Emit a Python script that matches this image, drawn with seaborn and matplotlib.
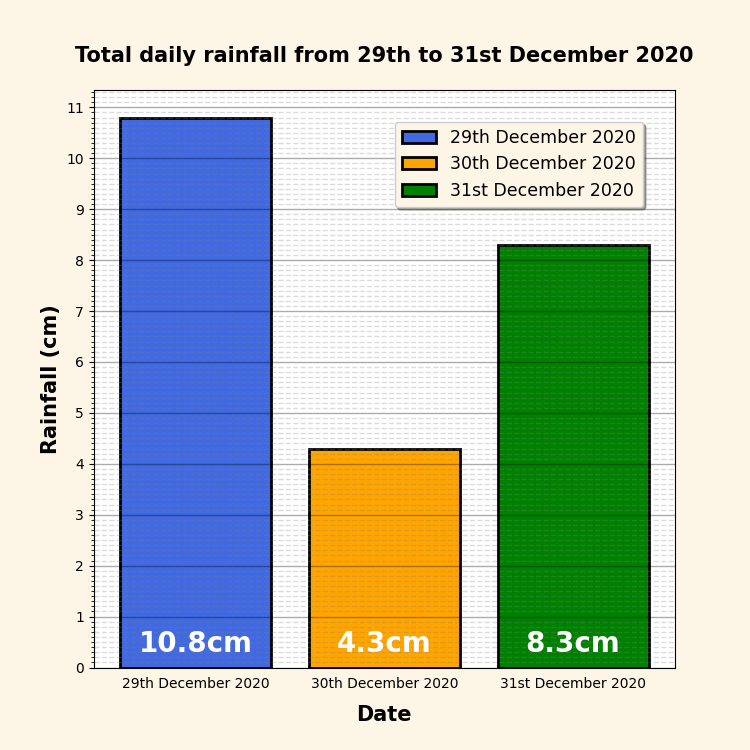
import matplotlib
matplotlib.use("Agg")
import matplotlib.pyplot as plt
import matplotlib.ticker as mtick
import seaborn as sns
import pandas as pd

# DADOS
datas = ["29th December 2020", "30th December 2020", "31st December 2020"]
chuva_cm = [10.8, 4.3, 8.3]
cores = ["royalblue", "orange", "green"]

df = pd.DataFrame({"data": datas, "chuva": chuva_cm})

fig, ax = plt.subplots(figsize=(7.5, 7.5), dpi=100)
fig.patch.set_facecolor("oldlace")
ax.set_facecolor("white")

sns.barplot(data=df, x="data", y="chuva", hue="data", palette=cores,
            edgecolor="black", linewidth=2, saturation=1, legend=True, ax=ax)
ax.set_xlim(-0.54, 2.54)

for i, v in enumerate(chuva_cm):
    ax.text(i, 0.47, f"{v}cm", ha="center", va="center", color="white",
            fontsize=20, fontweight="bold")

ax.set_title("Total daily rainfall from 29th to 31st December 2020",
             fontsize=15, fontweight="bold", pad=20)
ax.set_xlabel("Date", fontsize=15, fontweight="bold", labelpad=10)
ax.set_ylabel("Rainfall (cm)", fontsize=15, fontweight="bold")
ax.tick_params(axis="x", length=0, pad=7)

ax.yaxis.set_major_locator(mtick.MultipleLocator(1))
ax.yaxis.set_minor_locator(mtick.MultipleLocator(0.1))
ax.set_axisbelow(False)
ax.grid(which="major", axis="y", color="black", alpha=0.33, linewidth=1)
ax.grid(which="minor", axis="y", color="gray", linestyle="--", alpha=0.28, linewidth=1)

leg = ax.legend(loc="upper right", bbox_to_anchor=(0.96, 0.96), fontsize=12.5,
                shadow=True, facecolor="oldlace", framealpha=1)
leg.set_title(None)

fig.savefig("out.png", dpi=100, facecolor=fig.get_facecolor())
